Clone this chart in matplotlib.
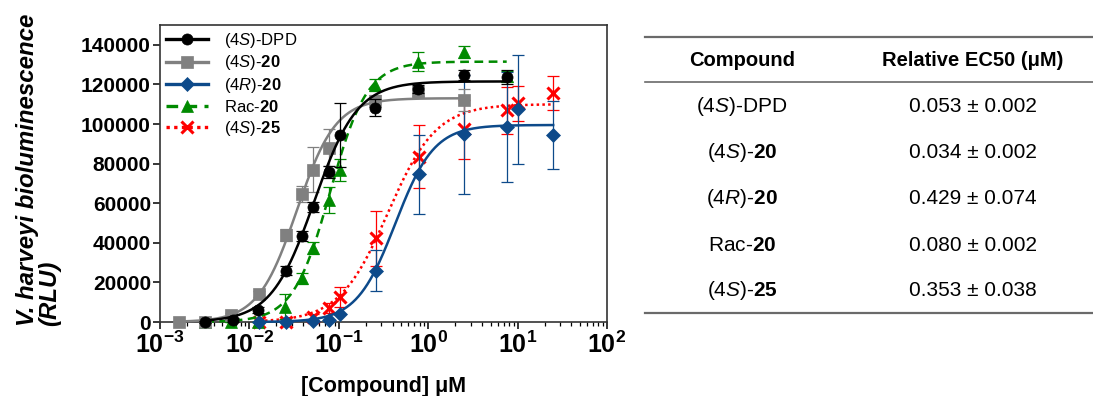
import numpy as np
import matplotlib
matplotlib.use('Agg')
from matplotlib import pyplot as plt
from matplotlib.lines import Line2D
from matplotlib.ticker import LogLocator, FixedLocator, NullFormatter, FuncFormatter

plt.rcParams['font.family'] = ['Liberation Sans', 'DejaVu Sans']
plt.rcParams['mathtext.fontset'] = 'custom'
plt.rcParams['mathtext.rm'] = 'Liberation Sans'
plt.rcParams['mathtext.it'] = 'Liberation Sans:italic'
plt.rcParams['mathtext.bf'] = 'Liberation Sans:bold'

# ---- data ----
labels = [r'(4$\mathit{S}$)-DPD', r'(4$\mathit{S}$)-$\mathbf{20}$', r'(4$\mathit{R}$)-$\mathbf{20}$',
          r'Rac-$\mathbf{20}$', r'(4$\mathit{S}$)-$\mathbf{25}$']

dpd_x = [0.0032, 0.0066, 0.0126, 0.0257, 0.039, 0.051, 0.0776, 0.103, 0.254, 0.76, 2.5, 7.55]
dpd_y = [0, 1000, 6000, 26000, 43600, 57900, 75600, 94400, 108200, 117600, 124700, 123800]
dpd_e = [500, 1000, 1500, 2500, 2500, 2500, 3000, 16000, 4200, 2000, 2700, 3500]

s20_x = [0.00165, 0.0032, 0.0063, 0.0129, 0.0255, 0.0385, 0.051, 0.0776, 0.254, 0.76, 2.5]
s20_y = [0, 0, 3500, 14100, 43900, 64500, 77000, 88000, 111500, 116000, 112100]
s20_e = [0, 0, 1000, 1500, 3000, 4000, 11300, 9300, 3000, 2000, 5500]

r20_x = [0.0129, 0.0257, 0.051, 0.0776, 0.103, 0.26, 0.78, 2.5, 7.55, 10.1, 25]
r20_y = [0, 0, 300, 1000, 4000, 26000, 74600, 94800, 98600, 107400, 94400]
r20_e = [0, 0, 0, 0, 0, 10300, 20000, 30000, 27800, 27600, 17300]

rac_x = [0.0032, 0.0063, 0.0126, 0.025, 0.039, 0.051, 0.0776, 0.103, 0.254, 0.76, 2.5, 7.55]
rac_y = [0, 0, 0, 7700, 22000, 37200, 61600, 76800, 119700, 131500, 136200, 124000]
rac_e = [0, 0, 0, 6400, 3000, 3000, 6700, 5500, 2800, 4700, 3000, 3000]

s25_x = [0.0129, 0.0257, 0.051, 0.0776, 0.103, 0.26, 0.78, 2.5, 7.55, 10.1, 25]
s25_y = [0, 0, 2700, 6900, 12800, 42300, 83500, 97300, 107000, 110400, 115500]
s25_e = [0, 0, 1500, 2500, 5000, 14000, 16000, 15000, 11800, 8800, 8600]

# 4PL fit parameters (EC50 from the table, top / slope)
ec50 = [0.053, 0.034, 0.429, 0.080, 0.353]
ec50_err = [0.002, 0.002, 0.074, 0.002, 0.038]
tops = [121500, 113000, 99500, 131500, 110000]
hill = [1.8, 2.0, 2.0, 2.1, 1.6]

xs = [dpd_x, s20_x, r20_x, rac_x, s25_x]
ys = [dpd_y, s20_y, r20_y, rac_y, s25_y]
es = [dpd_e, s20_e, r20_e, rac_e, s25_e]

colors = ['black', '#808080', '#0d4a8a', '#008a00', '#ff0000']
markers = ['o', 's', 'D', '^', 'x']
msizes = [8, 8, 7, 8.5, 8]
lstyles = ['-', '-', '-', (0, (3.5, 2.2)), (0, (1, 1.3))]
zorders = [7, 6, 5, 4, 3]

fig = plt.figure(figsize=(10.93, 3.96), dpi=100)
ax = fig.add_axes([160 / 1093, 1 - 322 / 396, 447 / 1093, 297 / 396])

for i in range(5):
    x = np.asarray(xs[i])
    xfit = np.logspace(np.log10(x.min()), np.log10(x.max()), 300)
    yfit = tops[i] / (1 + (ec50[i] / xfit) ** hill[i])
    ax.plot(xfit, yfit, color=colors[i], lw=1.8, linestyle=lstyles[i], zorder=zorders[i],
            clip_on=False)
    ax.errorbar(xs[i], ys[i], yerr=es[i], fmt='none', ecolor=colors[i], elinewidth=0.9,
                capsize=4.5, capthick=0.9, zorder=zorders[i], clip_on=False)
    mew = 2.2 if markers[i] == 'x' else 0.5
    ax.plot(xs[i], ys[i], linestyle='none', marker=markers[i], ms=msizes[i], color=colors[i],
            mec=colors[i], mew=mew, zorder=zorders[i] + 0.5, clip_on=False)

ax.set_xscale('log')
ax.set_xlim(1e-3, 1e2)
ax.set_ylim(0, 150000)
ax.xaxis.set_major_locator(FixedLocator([1e-3, 1e-2, 1e-1, 1e0, 1e1, 1e2]))
ax.xaxis.set_minor_locator(LogLocator(base=10, subs=np.arange(2, 10)))
ax.xaxis.set_minor_formatter(NullFormatter())
ax.xaxis.set_major_formatter(FuncFormatter(
    lambda v, p: r'$\mathbf{10^{%d}}$' % int(round(np.log10(v)))))
ax.set_yticks(np.arange(0, 140001, 20000))
ax.set_yticklabels([str(v) for v in range(0, 140001, 20000)])
for lab in ax.get_yticklabels():
    lab.set_fontweight('bold')
ax.tick_params(axis='both', which='major', labelsize=15, length=5, width=1.1, pad=1.5)
ax.tick_params(axis='x', which='major', labelsize=18, pad=2)
ax.tick_params(axis='x', which='minor', length=3, width=0.9)
for sp in ax.spines.values():
    sp.set_linewidth(1.2)
    sp.set_color('#333333')

ax.set_xlabel('[Compound] \u03bcM', fontsize=15.5, fontweight='bold', labelpad=13)
fig.text(16 / 1093, 1 - 326 / 396, 'V. harveyi bioluminescence\n(RLU)', rotation=90,
         ha='left', va='bottom', multialignment='left', fontsize=17.3,
         fontweight='bold', fontstyle='italic', linespacing=0.95)

handles = []
for i in range(5):
    h = Line2D([], [], color=colors[i], lw=2.4, linestyle=lstyles[i], marker=markers[i],
               ms=msizes[i], mew=2.2 if markers[i] == 'x' else 0.5, mec=colors[i])
    handles.append(h)
leg = ax.legend(handles, labels, loc='upper left', bbox_to_anchor=(0.0, 1.0), frameon=False,
                fontsize=12, handlelength=2.5, labelspacing=0.22, handletextpad=1.0,
                borderaxespad=0.2, borderpad=0.15)

# ---- table on the right ----
tx0, tx1 = 645 / 1093, 1.0
for yy, lw in [(37, 1.6), (82, 1.2), (313, 1.6)]:
    fig.add_artist(Line2D([tx0, tx1], [1 - yy / 396] * 2, color='#6a6a6a', lw=lw))
col1, col2 = 742 / 1093, 973 / 1093
fig.text(col1, 1 - 60 / 396, 'Compound', ha='center', va='center', fontsize=14.5,
         fontweight='bold')
fig.text(col2, 1 - 60 / 396, 'Relative EC50 (\u03bcM)', ha='center', va='center',
         fontsize=14.5, fontweight='bold')
row_y = [107, 153, 199, 245, 291]
for i in range(5):
    fig.text(col1, 1 - row_y[i] / 396, labels[i], ha='center', va='center', fontsize=15)
    fig.text(col2, 1 - row_y[i] / 396, '%.3f \u00b1 %.3f' % (ec50[i], ec50_err[i]),
             ha='center', va='center', fontsize=15)

fig.savefig('out.png', dpi=100)
